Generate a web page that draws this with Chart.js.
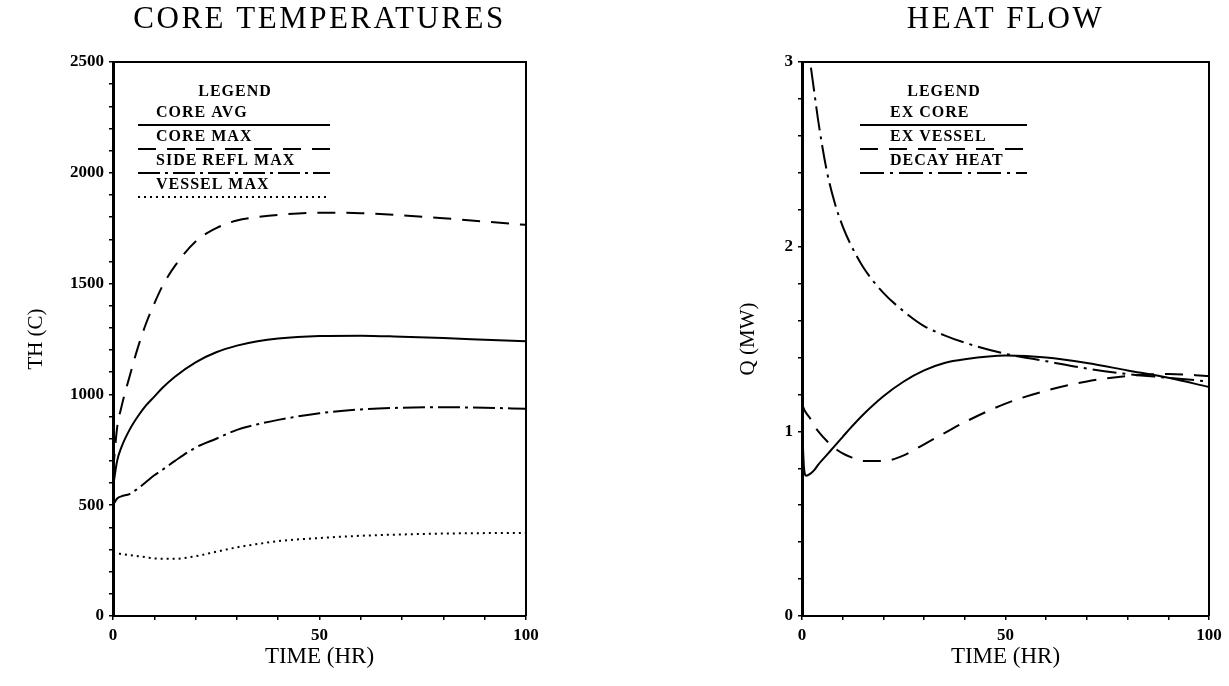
<!DOCTYPE html>
<html>
<head>
<meta charset="utf-8">
<script src="https://cdn.jsdelivr.net/npm/chart.js@4/dist/chart.umd.min.js"></script>
<style>
  html, body { margin: 0; padding: 0; background: #fff; }
  body { width: 1229px; height: 686px; position: relative; overflow: hidden; }
  canvas { position: absolute; top: 0; }
  #chart-temp { left: 0; }
  #chart-heat { left: 700px; }
</style>
</head>
<body>
<canvas id="chart-temp" width="640" height="686"></canvas>
<canvas id="chart-heat" width="529" height="686"></canvas>
<script>
// core temperatures (deg C) vs time (hr)
const tempTime = [0, 1, 2, 4, 6, 8, 10, 12, 15, 20, 25, 30, 35, 40, 50, 60, 70, 80, 90, 100];
const coreAvg = [580, 700, 760, 840, 900, 950, 990, 1030, 1080, 1145, 1190, 1220, 1240, 1252, 1263, 1265, 1260, 1254, 1247, 1240];
const coreMax = [650, 850, 940, 1080, 1210, 1320, 1410, 1490, 1580, 1690, 1750, 1785, 1800, 1810, 1820, 1818, 1808, 1795, 1780, 1765];
const sideReflMax = [500, 530, 540, 550, 575, 605, 635, 660, 700, 760, 800, 840, 865, 885, 915, 932, 940, 942, 940, 935];
const vesselMax = [280, 282, 280, 275, 270, 265, 260, 258, 258, 270, 290, 310, 325, 338, 352, 362, 368, 372, 374, 375];

// heat flow (MW) vs time (hr)
const flowTime = [0, 0.5, 1, 2, 3, 4, 6, 8, 10, 12, 15, 20, 25, 30, 35, 40, 50, 60, 70, 80, 90, 100];
const exCore = [1.05, 0.8, 0.76, 0.77, 0.79, 0.82, 0.87, 0.92, 0.97, 1.02, 1.09, 1.19, 1.27, 1.33, 1.37, 1.39, 1.41, 1.40, 1.37, 1.33, 1.29, 1.24];
const exVessel = [1.15, 1.12, 1.1, 1.07, 1.03, 1.0, 0.95, 0.91, 0.88, 0.86, 0.84, 0.84, 0.87, 0.93, 0.99, 1.05, 1.15, 1.22, 1.27, 1.30, 1.31, 1.30];
const decayHeat = [3.6, 3.3, 3.15, 3.0, 2.84, 2.68, 2.42, 2.24, 2.11, 2.01, 1.89, 1.75, 1.65, 1.57, 1.52, 1.48, 1.42, 1.38, 1.34, 1.31, 1.29, 1.27];

const SERIF = '"Liberation Serif", "DejaVu Serif", serif';

const pts = (xs, ys) => xs.map((x, i) => ({ x, y: ys[i] }));

const line = (label, xs, ys, dash) => ({
  label,
  data: pts(xs, ys),
  borderColor: "#000",
  borderWidth: 2,
  borderDash: dash,
  pointRadius: 0,
  fill: false,
  cubicInterpolationMode: "monotone",
});

// frame on top/right, big title and the boxed-in legend
const framePlugin = {
  id: "frame",
  afterDraw(chart, args, o) {
    const { ctx, chartArea: a } = chart;
    ctx.save();
    ctx.strokeStyle = "#000";
    ctx.fillStyle = "#000";
    ctx.lineWidth = 2;
    ctx.setLineDash([]);
    ctx.beginPath();
    ctx.moveTo(a.left, a.top);
    ctx.lineTo(a.right, a.top);
    ctx.lineTo(a.right, a.bottom);
    ctx.stroke();

    ctx.textAlign = "center";
    ctx.textBaseline = "middle";
    ctx.font = "31px " + SERIF;
    ctx.letterSpacing = "2.5px";
    ctx.fillText(o.title, (a.left + a.right) / 2, 20);

    ctx.font = "bold 16px " + SERIF;
    ctx.letterSpacing = "1px";
    ctx.fillText("LEGEND", a.left + o.headX, a.top + 30);
    ctx.textAlign = "left";
    chart.data.datasets.forEach((ds, i) => {
      ctx.fillText(ds.label, a.left + o.textX, a.top + 51 + 24 * i);
      ctx.setLineDash(ds.borderDash);
      ctx.beginPath();
      ctx.moveTo(a.left + o.lineX, a.top + 63 + 24 * i);
      ctx.lineTo(a.left + o.lineX + o.lineLen, a.top + 63 + 24 * i);
      ctx.stroke();
      ctx.setLineDash([]);
    });
    ctx.restore();
  },
};

function makeChart(id, datasets, cfg) {
  new Chart(document.getElementById(id), {
    type: "line",
    data: { datasets },
    plugins: [framePlugin],
    options: {
      responsive: false,
      animation: false,
      layout: { padding: { top: 62, right: cfg.padRight, left: 0, bottom: 0 } },
      plugins: {
        legend: { display: false },
        tooltip: { enabled: false },
        frame: cfg.frame,
      },
      scales: {
        x: {
          type: "linear",
          min: 0,
          max: 100,
          afterFit: (s) => { s.height = 70; },
          border: { color: "#000", width: 2 },
          grid: { drawOnChartArea: false, color: "#000", tickLength: 4, lineWidth: 1.5 },
          ticks: {
            stepSize: 10,
            autoSkip: false,
            maxRotation: 0,
            padding: 5,
            color: "#000",
            font: { family: SERIF, size: 17, weight: "bold" },
            callback: (v) => (v % 50 === 0 ? v : ""),
          },
          title: {
            display: true,
            text: "TIME (HR)",
            color: "#000",
            padding: { top: 0, bottom: 15 },
            font: { family: SERIF, size: 23 },
          },
        },
        y: {
          min: 0,
          max: cfg.yMax,
          afterFit: (s) => { s.width = cfg.yWidth; },
          border: { color: "#000", width: 3 },
          grid: { drawOnChartArea: false, color: "#000", tickLength: 4, lineWidth: 1.5 },
          ticks: {
            stepSize: cfg.yStep,
            autoSkip: false,
            padding: 5,
            color: "#000",
            font: { family: SERIF, size: 17, weight: "bold" },
            callback: cfg.yLabel,
          },
          title: {
            display: true,
            text: cfg.yTitle,
            color: "#000",
            padding: { top: cfg.yTitlePad, bottom: 0 },
            font: { family: SERIF, size: 21 },
          },
        },
      },
    },
  });
}

document.addEventListener("DOMContentLoaded", () => {
  makeChart(
    "chart-temp",
    [
      line("CORE AVG", tempTime, coreAvg, []),
      line("CORE MAX", tempTime, coreMax, [18, 11]),
      line("SIDE REFL MAX", tempTime, sideReflMax, [22, 5, 3, 5]),
      line("VESSEL MAX", tempTime, vesselMax, [2, 4]),
    ],
    {
      yMax: 2500,
      yStep: 100,
      yWidth: 113,
      yTitle: "TH (C)",
      yTitlePad: 24,
      padRight: 114,
      yLabel: (v) => (v % 500 === 0 ? v : ""),
      frame: { title: "CORE TEMPERATURES", headX: 122, textX: 43, lineX: 25, lineLen: 192 },
    }
  );

  makeChart(
    "chart-heat",
    [
      line("EX CORE", flowTime, exCore, []),
      line("EX VESSEL", flowTime, exVessel, [18, 11]),
      line("DECAY HEAT", flowTime, decayHeat, [24, 6, 3, 6]),
    ],
    {
      yMax: 3,
      yStep: 0.2,
      yWidth: 102,
      yTitle: "Q (MW)",
      yTitlePad: 36,
      padRight: 20,
      yLabel: (v) => (Math.abs(v - Math.round(v)) < 1e-6 ? Math.round(v) : ""),
      frame: { title: "HEAT FLOW", headX: 142, textX: 88, lineX: 58, lineLen: 167 },
    }
  );
});
</script>
</body>
</html>
